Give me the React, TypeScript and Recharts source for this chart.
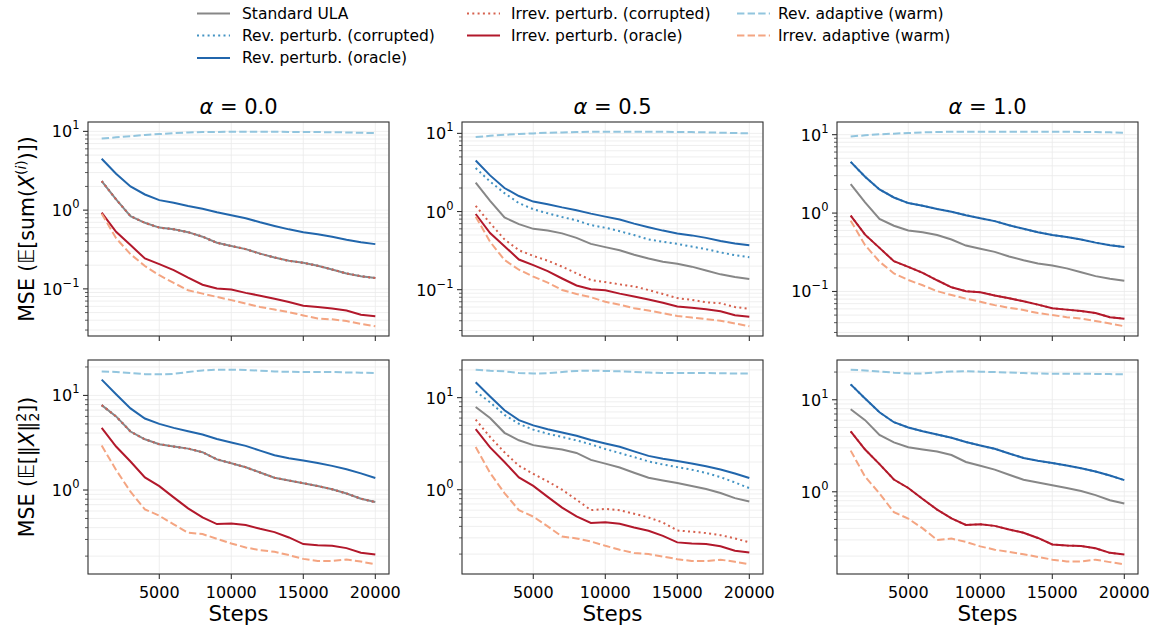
import React from "react";
import { CartesianGrid, Line, LineChart, XAxis, YAxis } from "recharts";

const steps = [
	1000, 2000, 3000, 4000, 5000, 6000, 7000, 8000, 9000, 10000, 11000, 12000,
	13000, 14000, 15000, 16000, 17000, 18000, 19000, 20000,
];
const xTicks = [5000, 10000, 15000, 20000];
const alphaLabels = ["0.0", "0.5", "1.0"];

// top row: MSE (E[sum(X^(i))])
const ulaSum = [2.34, 1.37, 0.84, 0.69, 0.6, 0.57, 0.525, 0.46, 0.385, 0.35, 0.32, 0.28, 0.25, 0.227, 0.214, 0.197, 0.176, 0.157, 0.145, 0.137];
const revOracleSum = [4.5, 2.9, 2.0, 1.58, 1.34, 1.24, 1.13, 1.04, 0.94, 0.86, 0.79, 0.7, 0.63, 0.57, 0.525, 0.495, 0.46, 0.42, 0.39, 0.37];
const irrevOracleSum = [0.93, 0.53, 0.36, 0.243, 0.206, 0.173, 0.139, 0.113, 0.101, 0.098, 0.089, 0.082, 0.075, 0.068, 0.061, 0.0587, 0.0562, 0.053, 0.047, 0.045];
const revCorruptSumA05 = [3.6, 2.42, 1.72, 1.28, 1.07, 0.95, 0.85, 0.77, 0.67, 0.62, 0.56, 0.5, 0.44, 0.41, 0.385, 0.356, 0.33, 0.3, 0.276, 0.26];
const irrevCorruptSumA05 = [1.18, 0.71, 0.44, 0.32, 0.27, 0.235, 0.197, 0.162, 0.133, 0.125, 0.117, 0.11, 0.099, 0.088, 0.078, 0.074, 0.069, 0.067, 0.06, 0.057];
const revAdaptSumA0 = [8.1, 8.4, 8.7, 9.0, 9.25, 9.5, 9.7, 9.8, 9.85, 9.9, 9.9, 9.9, 9.9, 9.85, 9.85, 9.8, 9.75, 9.7, 9.6, 9.5];
const revAdaptSumA05 = [9.0, 9.3, 9.6, 9.8, 10.0, 10.2, 10.3, 10.4, 10.5, 10.5, 10.5, 10.5, 10.5, 10.5, 10.4, 10.4, 10.3, 10.2, 10.1, 10.0];
const revAdaptSumA1 = [9.5, 9.8, 10.1, 10.3, 10.5, 10.7, 10.8, 10.9, 10.9, 10.9, 10.9, 10.9, 10.9, 10.9, 10.9, 10.9, 10.8, 10.8, 10.7, 10.6];
const irrevAdaptSumA0 = [0.9, 0.44, 0.276, 0.195, 0.149, 0.119, 0.096, 0.087, 0.079, 0.072, 0.065, 0.059, 0.0546, 0.0506, 0.046, 0.042, 0.041, 0.039, 0.036, 0.0335];
const irrevAdaptSumA05 = [0.86, 0.41, 0.24, 0.18, 0.147, 0.123, 0.099, 0.088, 0.08, 0.07, 0.064, 0.058, 0.054, 0.05, 0.046, 0.044, 0.042, 0.04, 0.037, 0.034];
const irrevAdaptSumA1 = [0.8, 0.39, 0.24, 0.17, 0.14, 0.12, 0.101, 0.09, 0.081, 0.074, 0.067, 0.062, 0.058, 0.053, 0.05, 0.047, 0.045, 0.042, 0.039, 0.036];

// bottom row: MSE (E[||X||_2^2])
const ulaNorm = [7.9, 6.0, 4.15, 3.44, 3.05, 2.88, 2.74, 2.51, 2.11, 1.92, 1.74, 1.53, 1.35, 1.26, 1.18, 1.1, 1.02, 0.92, 0.81, 0.746];
const revOracleNorm = [14.7, 10.3, 7.3, 5.7, 5.0, 4.54, 4.19, 3.86, 3.47, 3.18, 2.93, 2.61, 2.33, 2.17, 2.05, 1.93, 1.8, 1.66, 1.5, 1.34];
const irrevOracleNorm = [4.54, 2.88, 2.0, 1.36, 1.1, 0.836, 0.64, 0.513, 0.436, 0.443, 0.426, 0.389, 0.359, 0.315, 0.268, 0.26, 0.257, 0.243, 0.217, 0.208];
const revCorruptNormA05 = [11.7, 8.9, 6.5, 5.2, 4.49, 4.06, 3.74, 3.44, 3.11, 2.77, 2.5, 2.26, 2.03, 1.88, 1.76, 1.65, 1.52, 1.37, 1.2, 1.04];
const irrevCorruptNormA05 = [5.77, 3.74, 2.55, 1.82, 1.49, 1.23, 1.0, 0.78, 0.6, 0.62, 0.6, 0.548, 0.5, 0.44, 0.361, 0.35, 0.338, 0.321, 0.296, 0.268];
const revAdaptNormA0 = [17.9, 17.7, 17.3, 16.8, 16.7, 16.9, 17.7, 18.4, 18.7, 18.7, 18.6, 18.3, 17.9, 17.8, 17.7, 17.7, 17.7, 17.5, 17.4, 17.3];
const revAdaptNormA05 = [20.1, 19.6, 19.3, 18.5, 18.3, 18.4, 19.0, 19.5, 19.6, 19.5, 19.3, 19.0, 18.7, 18.5, 18.5, 18.5, 18.5, 18.4, 18.3, 18.3];
const revAdaptNormA1 = [21.2, 20.8, 20.3, 19.7, 19.3, 19.3, 19.8, 20.3, 20.4, 20.2, 20.0, 19.8, 19.5, 19.3, 19.2, 19.2, 19.2, 19.1, 19.0, 18.9];
const irrevAdaptNormA0 = [2.95, 1.63, 0.96, 0.624, 0.535, 0.433, 0.353, 0.342, 0.305, 0.272, 0.247, 0.231, 0.222, 0.205, 0.187, 0.178, 0.178, 0.184, 0.175, 0.164];
const irrevAdaptNormA05 = [2.91, 1.52, 0.92, 0.6, 0.51, 0.4, 0.31, 0.296, 0.274, 0.246, 0.223, 0.205, 0.2, 0.188, 0.176, 0.168, 0.168, 0.174, 0.165, 0.155];
const irrevAdaptNormA1 = [2.8, 1.46, 0.96, 0.6, 0.51, 0.4, 0.3, 0.31, 0.285, 0.255, 0.235, 0.222, 0.21, 0.196, 0.183, 0.175, 0.175, 0.183, 0.172, 0.163];

const DOTTED = "2 3.3";
const DASHED = "7.4 3.2";
const FONT = "'DejaVu Sans', sans-serif";

// draw order = legend order
const seriesStyle = [
	{ key: "ula", name: "Standard ULA", color: "#878787", dash: undefined },
	{ key: "revCorrupt", name: "Rev. perturb. (corrupted)", color: "#4393c3", dash: DOTTED },
	{ key: "revOracle", name: "Rev. perturb. (oracle)", color: "#2166ac", dash: undefined },
	{ key: "irrevCorrupt", name: "Irrev. perturb. (corrupted)", color: "#d6604d", dash: DOTTED },
	{ key: "irrevOracle", name: "Irrev. perturb. (oracle)", color: "#b2182b", dash: undefined },
	{ key: "revAdapt", name: "Rev. adaptive (warm)", color: "#92c5de", dash: DASHED },
	{ key: "irrevAdapt", name: "Irrev. adaptive (warm)", color: "#f4a582", dash: DASHED },
];

type Series = Record<string, number[]>;

// alpha = 0: corrupted == standard ULA, alpha = 1: corrupted == oracle
const topPanels: Series[] = [
	{ ula: ulaSum, revCorrupt: ulaSum, revOracle: revOracleSum, irrevCorrupt: ulaSum, irrevOracle: irrevOracleSum, revAdapt: revAdaptSumA0, irrevAdapt: irrevAdaptSumA0 },
	{ ula: ulaSum, revCorrupt: revCorruptSumA05, revOracle: revOracleSum, irrevCorrupt: irrevCorruptSumA05, irrevOracle: irrevOracleSum, revAdapt: revAdaptSumA05, irrevAdapt: irrevAdaptSumA05 },
	{ ula: ulaSum, revCorrupt: revOracleSum, revOracle: revOracleSum, irrevCorrupt: irrevOracleSum, irrevOracle: irrevOracleSum, revAdapt: revAdaptSumA1, irrevAdapt: irrevAdaptSumA1 },
];
const bottomPanels: Series[] = [
	{ ula: ulaNorm, revCorrupt: ulaNorm, revOracle: revOracleNorm, irrevCorrupt: ulaNorm, irrevOracle: irrevOracleNorm, revAdapt: revAdaptNormA0, irrevAdapt: irrevAdaptNormA0 },
	{ ula: ulaNorm, revCorrupt: revCorruptNormA05, revOracle: revOracleNorm, irrevCorrupt: irrevCorruptNormA05, irrevOracle: irrevOracleNorm, revAdapt: revAdaptNormA05, irrevAdapt: irrevAdaptNormA05 },
	{ ula: ulaNorm, revCorrupt: revOracleNorm, revOracle: revOracleNorm, irrevCorrupt: irrevOracleNorm, irrevOracle: irrevOracleNorm, revAdapt: revAdaptNormA1, irrevAdapt: irrevAdaptNormA1 },
];

const FW = 301;
const FH = 214;
const YW = 80;
const XH = 50;
const MT = 4;
const MR = 30;
const colLeft = [88, 462, 837];
const rowTop = [122, 360];

const xSpan = steps[steps.length - 1] - steps[0];
const xDomain = [steps[0] - 0.05 * xSpan, steps[steps.length - 1] + 0.05 * xSpan];

const YTick = (props: any) => {
	const { x, y, payload } = props;
	const lg = Math.log10(payload.value);
	const e = Math.round(lg);
	const major = Math.abs(lg - e) < 1e-6;
	const len = major ? 5 : 3;
	return (
		<g>
			<line x1={x} x2={x - len} y1={y} y2={y} stroke="#333" strokeWidth={major ? 1.1 : 0.8} />
			{major && (
				<text x={x - len - 3.5} y={y + 6} textAnchor="end" fontSize={16} fill="#000" fontFamily={FONT}>
					10
					<tspan dy={-8} fontSize={11.5}>
						{e < 0 ? `−${-e}` : `${e}`}
					</tspan>
				</text>
			)}
		</g>
	);
};

const XTick = (props: any) => {
	const { x, y, payload, show } = props;
	return (
		<g>
			<line x1={x} x2={x} y1={y} y2={y + 5} stroke="#333" strokeWidth={1.1} />
			{show && (
				<text x={x} y={y + 24} textAnchor="middle" fontSize={16} fill="#000" fontFamily={FONT}>
					{payload.value}
				</text>
			)}
		</g>
	);
};

const Panel = ({ series, left, top, showX }: { series: Series; left: number; top: number; showX: boolean }) => {
	const data = steps.map((s, i) => {
		const row: Record<string, number> = { step: s };
		for (const { key } of seriesStyle) row[key] = series[key][i];
		return row;
	});
	const all = Object.values(series).flat();
	const lo = Math.log10(Math.min(...all));
	const hi = Math.log10(Math.max(...all));
	const pad = (hi - lo) * 0.05;
	const domain = [10 ** (lo - pad), 10 ** (hi + pad)];
	const yTicks: number[] = [];
	for (let e = Math.floor(lo - pad); e <= Math.ceil(hi + pad); e++) {
		for (let m = 1; m <= 9; m++) {
			const v = m * 10 ** e;
			if (v >= domain[0] && v <= domain[1]) yTicks.push(v);
		}
	}
	return (
		<div style={{ position: "absolute", left: left - YW, top: top - MT }}>
			<LineChart width={YW + FW + MR} height={MT + FH + XH} data={data} margin={{ top: MT, right: MR, left: 0, bottom: 0 }}>
				<CartesianGrid stroke="#ebebeb" strokeWidth={0.8} />
				<XAxis
					dataKey="step"
					type="number"
					domain={xDomain}
					ticks={xTicks}
					interval={0}
					height={XH}
					axisLine={false}
					tickLine={false}
					tickSize={0}
					tickMargin={0}
					allowDataOverflow
					tick={(p: any) => <XTick {...p} show={showX} />}
				/>
				<YAxis
					type="number"
					scale="log"
					domain={domain}
					ticks={yTicks}
					interval={0}
					width={YW}
					axisLine={false}
					tickLine={false}
					tickSize={0}
					tickMargin={0}
					allowDataOverflow
					tick={(p: any) => <YTick {...p} />}
				/>
				{seriesStyle.map(({ key, color, dash }) => (
					<Line
						key={key}
						dataKey={key}
						type="linear"
						stroke={color}
						strokeWidth={2}
						strokeDasharray={dash}
						dot={false}
						activeDot={false}
						isAnimationActive={false}
					/>
				))}
			</LineChart>
		</div>
	);
};

const legendCols = [
	{ hx: 197, tx: 242 },
	{ hx: 467, tx: 511 },
	{ hx: 737, tx: 778 },
];
const legendRows = [13.5, 35.5, 58];
const legendPos = [
	[0, 0],
	[0, 1],
	[0, 2],
	[1, 0],
	[1, 1],
	[2, 0],
	[2, 1],
];

const Overlay = () => (
	<svg width={1159} height={628} style={{ position: "absolute", left: 0, top: 0, pointerEvents: "none" }} fontFamily={FONT}>
		{seriesStyle.map((s, i) => {
			const [c, r] = legendPos[i];
			const y = legendRows[r];
			return (
				<g key={s.key}>
					<line x1={legendCols[c].hx} x2={legendCols[c].hx + 33} y1={y} y2={y} stroke={s.color} strokeWidth={2} strokeDasharray={s.dash} />
					<text x={legendCols[c].tx} y={y} dominantBaseline="central" fontSize={15.5} fill="#000">
						{s.name}
					</text>
				</g>
			);
		})}
		{rowTop.map((t) =>
			colLeft.map((l) => <rect key={`${t}-${l}`} x={l} y={t} width={FW} height={FH} fill="none" stroke="#333" strokeWidth={1.1} />),
		)}
		{alphaLabels.map((a, i) => (
			<text key={a} x={colLeft[i] + FW / 2} y={114} textAnchor="middle" fontSize={21} fill="#000">
				<tspan fontStyle="italic">α</tspan> = {a}
			</text>
		))}
		{colLeft.map((l) => (
			<text key={l} x={l + FW / 2} y={621} textAnchor="middle" fontSize={21.5} fill="#000">
				Steps
			</text>
		))}
		<text transform={`translate(34, ${rowTop[0] + FH / 2}) rotate(-90)`} textAnchor="middle" fontSize={20.5} fill="#000">
			MSE (𝔼[sum(<tspan fontStyle="italic">X</tspan>
			<tspan dy={-8} fontSize={14}>
				(<tspan fontStyle="italic">i</tspan>)
			</tspan>
			<tspan dy={8}>)])</tspan>
		</text>
		<text transform={`translate(34, ${rowTop[1] + FH / 2}) rotate(-90)`} textAnchor="middle" fontSize={20.5} fill="#000">
			MSE (𝔼[‖<tspan fontStyle="italic">X</tspan>‖
			<tspan dy={5} fontSize={14}>2</tspan>
			<tspan dx={-9} dy={-13} fontSize={14}>2</tspan>
			<tspan dy={8}>])</tspan>
		</text>
	</svg>
);

export default function App() {
	return (
		<div style={{ position: "absolute", left: 0, top: 0, width: 1159, height: 628, background: "#fff" }}>
			{rowTop.map((t, r) =>
				(r === 0 ? topPanels : bottomPanels).map((s, c) => (
					<Panel key={`${r}-${c}`} series={s} left={colLeft[c]} top={t} showX={r === 1} />
				)),
			)}
			<Overlay />
		</div>
	);
}
